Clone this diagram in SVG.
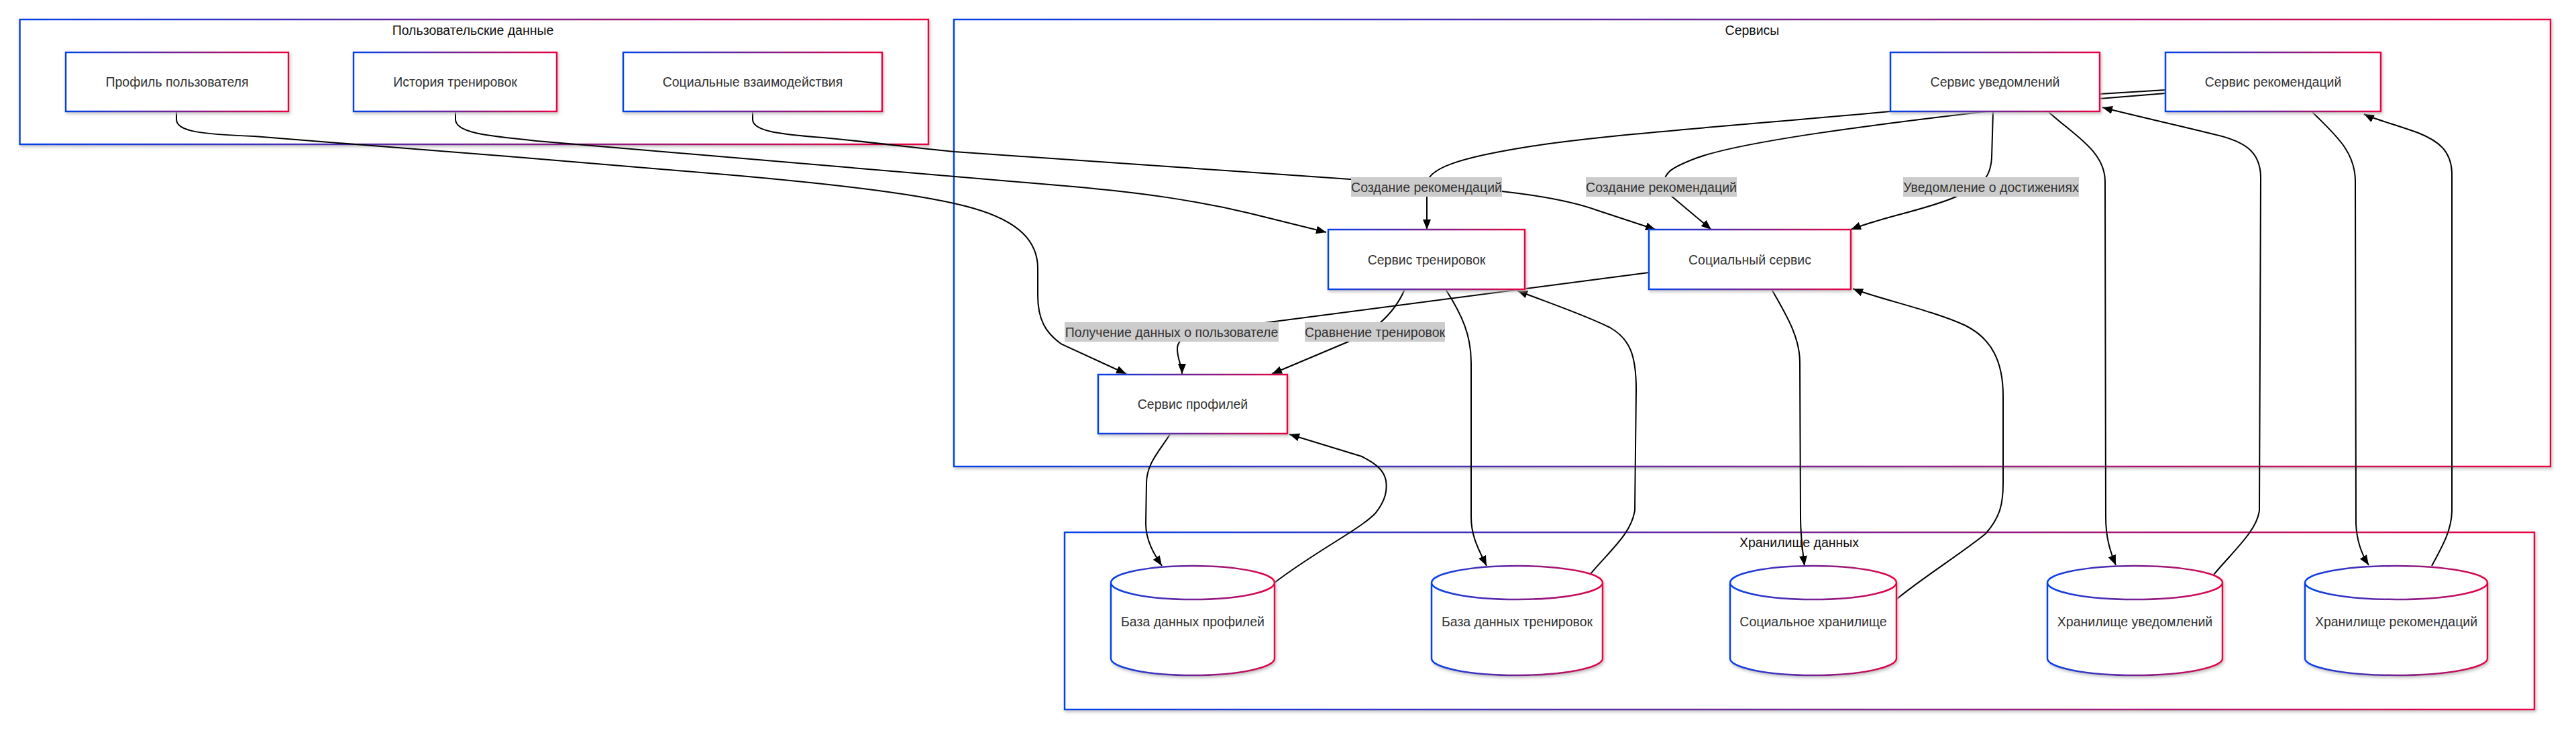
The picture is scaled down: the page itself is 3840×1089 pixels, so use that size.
<svg xmlns="http://www.w3.org/2000/svg" width="3840" height="1089" viewBox="0 0 3840 1089">
<defs>
<linearGradient id="g" x1="0" y1="0" x2="1" y2="0"><stop offset="0" stop-color="#0042eb"/><stop offset="1" stop-color="#eb0042"/></linearGradient>
<filter id="sh" x="-5%" y="-5%" width="110%" height="120%"><feDropShadow dx="1.5" dy="2.5" stdDeviation="2" flood-color="#b9b9b9" flood-opacity="0.9"/></filter>
<marker id="arr" viewBox="0 0 10 10" refX="10" refY="5" markerWidth="15" markerHeight="12" markerUnits="userSpaceOnUse" orient="auto" preserveAspectRatio="none"><path d="M0,0 L10,5 L0,10 z" fill="#000"/></marker>
<style>
.cl{fill:#fff;stroke:url(#g);stroke-width:2.5;filter:url(#sh)}
.nd{fill:#fff;stroke:url(#g);stroke-width:2.5;filter:url(#sh)}
.ct{font-family:"Liberation Sans",Arial,sans-serif;font-size:19.5px;fill:#111;text-anchor:middle;dominant-baseline:central}
.nt{font-family:"Liberation Sans",Arial,sans-serif;font-size:19.5px;fill:#333;text-anchor:middle;dominant-baseline:central}
.e{fill:none;stroke:#000;stroke-width:2}
.ea{fill:none;stroke:#000;stroke-width:2;marker-end:url(#arr)}
.lb{fill:#cccccc}
</style>
</defs>
<rect width="3840" height="1089" fill="#fff"/>
<g id="clusters">
<g id="cluster-user"><rect class="cl" x="29.5" y="29" width="1354.5" height="186"/><text class="ct" x="705" y="45">Пользовательские данные</text></g>
<g id="cluster-services"><rect class="cl" x="1422" y="29" width="2380" height="666"/><text class="ct" x="2612" y="45">Сервисы</text></g>
<g id="cluster-storage"><rect class="cl" x="1587" y="793" width="2191" height="264"/><text class="ct" x="2682" y="808">Хранилище данных</text></g>
</g>
<g id="edges">
<path class="ea" d="M263,166 L263,178 C263,196 300,200 379,203 C520,214 900,244 1093,261 C1250,275 1380,290 1450,310 C1520,330 1547,360 1547,400 L1547,440 C1547,475 1558,496 1583,513 L1679,557"/>
<path class="ea" d="M679,166 L679,178 C679,200 740,203 800,210 L1600,278 C1700,287 1780,298 1864,318 L1977,346"/>
<path class="ea" d="M1122,166 L1122,178 C1122,195 1160,200 1227,205 C1300,212 1380,222 1423,226 L2100,273 C2250,283 2330,295 2380,313 L2468,342"/>
<path class="ea" d="M3228,134 L3130,140 L2818,166 C2600,186 2400,200 2282,218 C2180,234 2127,250 2127,275 L2127,342"/>
<path class="ea" d="M3228,139 L3130,147 L2953,167 C2800,185 2600,210 2530,235 C2490,250 2481,258 2481,272 C2481,285 2488,290 2495,295 L2551,342"/>
<path class="ea" d="M2971,166 L2969,235 C2968,250 2965,258 2960,265 L2916,293 C2870,313 2810,322 2759,342"/>
<path class="ea" d="M2458,406 L1800,492 C1770,497 1755,505 1755,520 C1755,535 1762,545 1762,557"/>
<path class="ea" d="M2094,431 C2085,452 2070,470 2056,482 L2010,509 L1896,557"/>
<path class="ea" d="M1744,647 C1730,670 1709,690 1709,720 L1708,780 C1708,805 1720,825 1732,843"/>
<path class="ea" d="M1900,868 C1960,822 2025,790 2050,765 C2066,745 2068,730 2066,716 C2063,700 2050,690 2030,680 L1922,647"/>
<path class="ea" d="M2155,431 C2180,470 2193,500 2193,540 L2193,770 C2193,800 2205,820 2216,843"/>
<path class="ea" d="M2371,855 C2400,820 2432,795 2437,760 L2439,580 C2439,530 2430,505 2400,488 C2360,468 2300,448 2262,433"/>
<path class="ea" d="M2641,431 C2660,465 2683,500 2683,540 L2684,770 C2684,800 2687,820 2690,843"/>
<path class="ea" d="M2828,892 C2860,865 2930,820 2960,795 C2982,770 2986,750 2986,720 L2986,590 C2986,540 2970,505 2930,485 C2880,462 2800,445 2762,430"/>
<path class="ea" d="M3054,167 C3090,200 3138,225 3138,270 L3139,770 C3139,800 3145,820 3154,842"/>
<path class="ea" d="M3300,856 C3330,820 3365,790 3368,760 L3370,265 C3370,225 3345,210 3300,200 C3240,185 3180,172 3134,160"/>
<path class="ea" d="M3447,167 C3480,200 3511,225 3511,270 L3512,780 C3513,805 3520,825 3531,842"/>
<path class="ea" d="M3625,843 C3640,815 3655,790 3655,760 L3655,260 C3655,225 3635,210 3605,198 C3570,185 3540,178 3524,170"/>
</g>
<g id="edge-labels">
<g><rect class="lb" x="2014" y="264" width="225" height="29"/><text class="nt" x="2126.5" y="278.5">Создание рекомендаций</text></g>
<g><rect class="lb" x="2364" y="264" width="225" height="29"/><text class="nt" x="2476.5" y="278.5">Создание рекомендаций</text></g>
<g><rect class="lb" x="2837" y="264" width="262" height="29"/><text class="nt" x="2968" y="278.5">Уведомление о достижениях</text></g>
<g><rect class="lb" x="1587" y="480" width="319" height="29"/><text class="nt" x="1746.5" y="494.5">Получение данных о пользователе</text></g>
<g><rect class="lb" x="1945" y="480" width="209" height="29"/><text class="nt" x="2049.5" y="494.5">Сравнение тренировок</text></g>
</g>
<g id="nodes">
<g id="n-profile-user"><rect class="nd" x="98" y="78" width="332" height="88"/><text class="nt" x="264" y="122">Профиль пользователя</text></g>
<g id="n-history"><rect class="nd" x="527" y="78" width="303" height="88"/><text class="nt" x="678.5" y="122">История тренировок</text></g>
<g id="n-social-int"><rect class="nd" x="929" y="78" width="386" height="88"/><text class="nt" x="1122" y="122">Социальные взаимодействия</text></g>
<g id="n-notif"><rect class="nd" x="2818" y="78" width="312" height="88"/><text class="nt" x="2974" y="122">Сервис уведомлений</text></g>
<g id="n-rec"><rect class="nd" x="3228" y="78" width="321" height="88"/><text class="nt" x="3388.5" y="122">Сервис рекомендаций</text></g>
<g id="n-training"><rect class="nd" x="1980" y="342" width="293" height="89"/><text class="nt" x="2126.5" y="387">Сервис тренировок</text></g>
<g id="n-social"><rect class="nd" x="2458" y="342" width="301" height="89"/><text class="nt" x="2608.5" y="387">Социальный сервис</text></g>
<g id="n-profile"><rect class="nd" x="1637" y="558" width="282" height="88"/><text class="nt" x="1778" y="602">Сервис профилей</text></g>
<g id="db-profile"><path class="nd" d="M1656,868 a122,25 0 0 0 244,0 a122,25 0 0 0 -244,0 l0,113 a122,25 0 0 0 244,0 l0,-113"/><text class="nt" x="1778" y="926">База данных профилей</text></g>
<g id="db-training"><path class="nd" d="M2134,868 a127.5,25 0 0 0 255,0 a127.5,25 0 0 0 -255,0 l0,113 a127.5,25 0 0 0 255,0 l0,-113"/><text class="nt" x="2261.5" y="926">База данных тренировок</text></g>
<g id="db-social"><path class="nd" d="M2579,868 a124,25 0 0 0 248,0 a124,25 0 0 0 -248,0 l0,113 a124,25 0 0 0 248,0 l0,-113"/><text class="nt" x="2703" y="926">Социальное хранилище</text></g>
<g id="db-notif"><path class="nd" d="M3052,868 a130.5,25 0 0 0 261,0 a130.5,25 0 0 0 -261,0 l0,113 a130.5,25 0 0 0 261,0 l0,-113"/><text class="nt" x="3182.5" y="926">Хранилище уведомлений</text></g>
<g id="db-rec"><path class="nd" d="M3436,868 a136,25 0 0 0 272,0 a136,25 0 0 0 -272,0 l0,113 a136,25 0 0 0 272,0 l0,-113"/><text class="nt" x="3572" y="926">Хранилище рекомендаций</text></g>
</g>
</svg>
